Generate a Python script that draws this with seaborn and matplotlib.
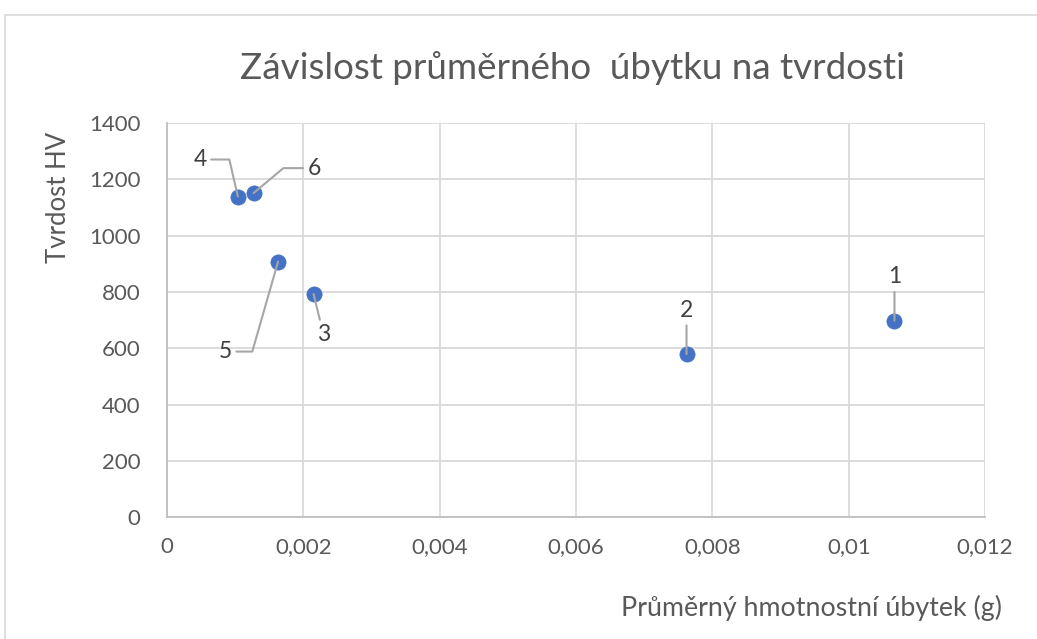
import matplotlib
matplotlib.use("Agg")
import matplotlib.pyplot as plt
from matplotlib.patches import Rectangle
from matplotlib.ticker import FuncFormatter, MultipleLocator
import seaborn as sns
import pandas as pd

# data
sample_ids = ["1", "2", "3", "4", "5", "6"]
mass_loss = [0.01067, 0.00762, 0.00215, 0.00104, 0.00163, 0.00127]
hardness = [698, 579, 793, 1139, 908, 1151]

df = pd.DataFrame({"id": sample_ids, "loss": mass_loss, "hv": hardness})

# label placement (offset of text from point, in pixels) and leader style
label_offsets = {
    "1": (0, 44), "2": (0, 44), "3": (10, -41),
    "4": (-38, 37), "5": (-53, -90), "6": (61, 25),
}
leader_styles = {
    "1": "arc3", "2": "arc3", "3": "arc3",
    "4": "angle,angleA=0,angleB=103,rad=0",
    "5": "angle,angleA=0,angleB=74,rad=0",
    "6": "angle,angleA=0,angleB=40,rad=0",
}

sns.set_theme(style="white")
plt.rcParams["font.family"] = ["Lato", "DejaVu Sans"]

gray_txt = "#595959"
fig = plt.figure(figsize=(10.37, 6.39), dpi=100)
fig.patches.append(Rectangle((5 / 1037, -0.1), 1.2, 1.1 - 15 / 639,
                             transform=fig.transFigure, fill=False,
                             edgecolor="#d9d9d9", linewidth=1.2))
ax = fig.add_axes([0.161, 0.1905, 0.789, 0.617])

sns.scatterplot(data=df, x="loss", y="hv", ax=ax, s=120, color="#4472C4",
                edgecolor="#4472C4", linewidth=0.5, zorder=3)

for _, r in df.iterrows():
    dx, dy = label_offsets[r["id"]]
    ax.annotate(r["id"], xy=(r["loss"], r["hv"]), xytext=(dx, dy),
                textcoords="offset pixels", ha="center", va="center",
                fontsize=16.5, color="#404040",
                arrowprops=dict(arrowstyle="-", color="#a6a6a6", lw=1.5,
                                shrinkA=1, shrinkB=0,
                                connectionstyle=leader_styles[r["id"]]),
                zorder=4)

ax.set_xlim(0, 0.012)
ax.set_ylim(0, 1400)
ax.xaxis.set_major_locator(MultipleLocator(0.002))
ax.yaxis.set_major_locator(MultipleLocator(200))
ax.xaxis.set_major_formatter(FuncFormatter(lambda v, p: f"{v:g}".replace(".", ",")))
ax.yaxis.set_major_formatter(FuncFormatter(lambda v, p: f"{v:g}"))
ax.grid(True, color="#d9d9d9", linewidth=1.3)
ax.set_axisbelow(True)
for side in ["top", "right"]:
    ax.spines[side].set_visible(False)
for side in ["left", "bottom"]:
    ax.spines[side].set_color("#bfbfbf")
    ax.spines[side].set_linewidth(1.3)
ax.tick_params(axis="both", length=0, labelsize=16, labelcolor=gray_txt)
ax.tick_params(axis="y", pad=19)
ax.tick_params(axis="x", pad=14)

ax.set_xlabel("Průměrný hmotnostní úbytek (g)", fontsize=19.3, color=gray_txt)
ax.set_ylabel("Tvrdost HV", fontsize=18.5, color=gray_txt)
ax.xaxis.set_label_coords(0.788, -0.197)
ax.yaxis.set_label_coords(-0.117, 0.812)

fig.text(0.552, 0.894, "Závislost průměrného  úbytku na tvrdosti",
         ha="center", va="center", fontsize=26.5, color=gray_txt)

fig.savefig("out.png", dpi=100)
plt.close(fig)
